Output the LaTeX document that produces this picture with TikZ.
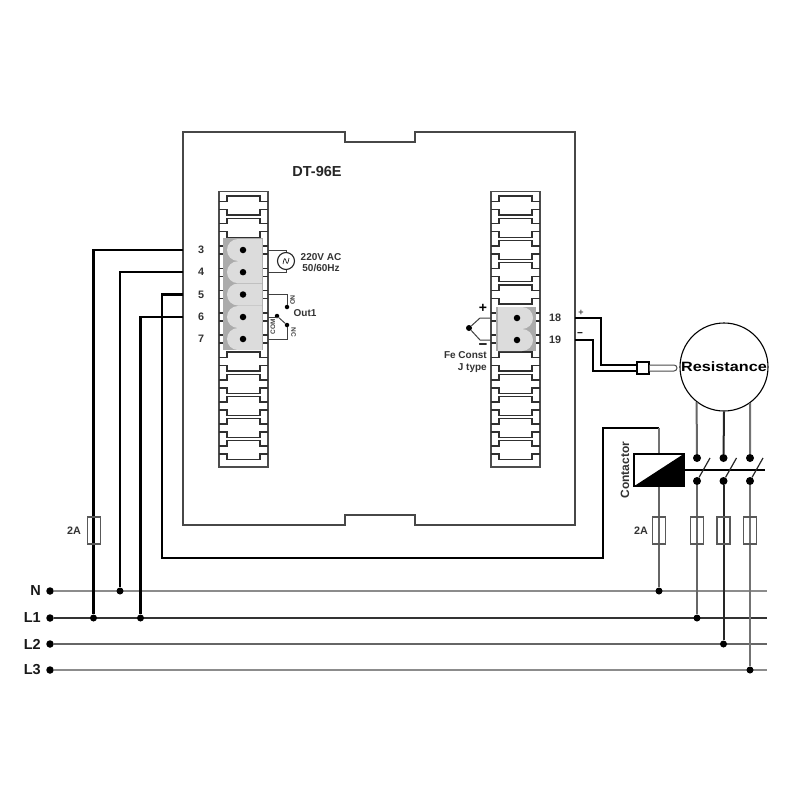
\documentclass[tikz,border=0pt]{standalone}
\usepackage{fontspec}
\setmainfont{Liberation Sans}
\usetikzlibrary{calc}
\definecolor{lobe}{HTML}{DCDCDC}
\definecolor{blockbg}{HTML}{ABABAB}
\definecolor{celline}{HTML}{303030}
\tikzset{
  lbl/.style={inner sep=0pt,font=\fontsize{10.8}{11}\selectfont\bfseries,text=black!80},
  tiny/.style={inner sep=0pt,font=\fontsize{6.5}{6.5}\selectfont\bfseries,text=black!75},
  small/.style={inner sep=0pt,font=\fontsize{10}{12}\selectfont\bfseries,text=black!80},
  bus/.style={inner sep=0pt,font=\fontsize{14.5}{14.5}\selectfont\bfseries,text=black!90},
  dot/.style={circle,fill=black,inner sep=0pt,minimum size=#1},
  dot/.default=7,
  heavy/.style={line width=2.5pt,black},
  thin wire/.style={line width=1.2pt,black!75},
  fuse/.style={draw=black!65,fill=none,line width=1.1pt,minimum width=13pt,minimum height=27pt,inner sep=0pt},
  cellpath/.style={line width=1.15pt,celline},
  pin/.style={circle,fill=black,inner sep=0pt,minimum size=6.5}
}
\newcommand{\strip}[1]{%
  \draw[line width=1.1pt,black!70] (#1,191.5) rectangle ++(49,275.5);
  \foreach \c in {205.5,227.8,250,272.2,294.5,317,339,361.5,384,406,428,450}{
    \draw[cellpath] (#1,\c-4)--++(8,0)--++(0,-5.5)--++(33,0)--++(0,5.5)--++(8,0);
    \draw[cellpath] (#1,\c+4)--++(8,0)--++(0,5.5)--++(33,0)--++(0,-5.5)--++(8,0);
  }
}
\begin{document}
\begin{tikzpicture}[x=1pt,y=-1pt]
\useasboundingbox (0,0) rectangle (800,800);
\fill[white] (0,0) rectangle (800,800);
% enclosure
\draw[line width=1.1pt,black!72] (183,132)--(345,132)--(345,142)--(415,142)--(415,132)--(575,132)--(575,525)--(415,525)--(415,515)--(345,515)--(345,525)--(183,525)--cycle;
\node[inner sep=0pt,font=\fontsize{14.5}{15}\selectfont\bfseries,text=black!85] (title) at (317,172) {DT-96E};
% strips
\strip{219}
\strip{491}
% left block
\fill[blockbg] (223,238) rectangle (263,350);
\foreach \c in {250,272.2,294.5,317,339}{
  \fill[lobe] (262,\c-11) -- (238,\c-11) arc[start angle=270,end angle=90,x radius=11,y radius=11] -- (262,\c+11) -- cycle;
}
\foreach \n/\c in {3/250,4/272.2,5/294.5,6/317,7/339}{
  \node[pin] (p\n) at (243,\c) {};
  \node[lbl] (t\n) at (201,\c) {\n};
  \coordinate (w\n) at (183,\c);
  \coordinate (r\n) at (268,\c);
}
% right block
\fill[blockbg] (496,307) rectangle (536,351);
\foreach \c in {318,340}{
  \fill[lobe] (498,\c-11) -- (522,\c-11) arc[start angle=-90,end angle=90,x radius=11,y radius=11] -- (498,\c+11) -- cycle;
}
\foreach \n/\c in {18/318,19/340}{
  \node[pin] (p\n) at (517,\c) {};
  \node[lbl] (t\n) at (555,\c) {\n};
  \coordinate (w\n) at (575,\c);
  \coordinate (l\n) at (491,\c);
}
% supply
\node[circle,draw=black!85,line width=1.1pt,minimum size=17pt,inner sep=0pt] (src) at (286,261) {};
\draw[black!85,line width=.7pt] (283,264) .. controls (284,258) and (285,257) .. (286,261) .. controls (287,265) and (288,264) .. (289,258);
\draw[thin wire,line width=1pt] (r3)-|(src.north);
\draw[thin wire,line width=1pt] (r4)-|(src.south);
\node[small] (ac) at (321,263.5) {\begin{tabular}{@{}c@{}}220V AC\\[-0.5pt]50/60Hz\end{tabular}};
% relay
\node[dot=4.5] (no) at (287,307) {};
\node[dot=4.5] (com) at (277,316) {};
\node[dot=4.5] (nc) at (287,325) {};
\draw[thin wire,line width=1pt] (r5)-|(no);
\draw[thin wire,line width=1pt] (r7)-|(nc);
\draw[thin wire,line width=1pt] (com)--(nc);
\draw[thin wire,line width=1pt] (r6)-|(com);
\node[tiny,rotate=-90] (notxt) at (292.5,300) {NO};
\node[tiny,rotate=-90] (nctxt) at (293.5,332) {NC};
\node[tiny,rotate=90] (comtxt) at (273,327) {COM};
\node[small] (out) at (305,313) {Out1};
% thermocouple
\node[dot=6] (tc) at (469,328) {};
\coordinate (tcu) at (480,318);
\coordinate (tcl) at (480,340);
\draw[thin wire,line width=1pt] (tc)--(tcu)--(l18);
\draw[thin wire,line width=1pt] (tc)--(tcl)--(l19);
\node[inner sep=0pt,font=\fontsize{14}{14}\selectfont\bfseries] (plus) at (483,308) {+};
\node[inner sep=0pt,font=\fontsize{15}{15}\selectfont\bfseries] (minus) at (483,346.5) {\textminus};
\node[small,align=right,anchor=north east] (fe) at (487,351) {Fe Const\\J type};
\node[inner sep=0pt,font=\fontsize{9}{9}\selectfont\bfseries,text=black!70] (p2) at (581,313) {+};
\node[inner sep=0pt,font=\fontsize{10}{10}\selectfont\bfseries] (m2) at (580,335) {\textminus};
% probe
\node[draw=black,fill=white,line width=1.2pt,minimum size=12pt,inner sep=0pt] (probe) at (643,368) {};
\draw[black!70,fill=white,line width=1pt,rounded corners=3pt] (probe.east |- 0,365) -- (677,365) -- (677,371) -- (probe.east |- 0,371);
\draw[heavy,line width=2.2pt] (w18)-|(601,365)--(probe.west |- 0,365);
\draw[heavy,line width=2.2pt] (w19)-|(593,371)--(probe.west |- 0,371);
% resistance
\node[circle,draw=black,fill=white,line width=1.1pt,minimum size=88pt,inner sep=0pt] (res) at (724,367) {};
\node[inner sep=0pt,font=\fontsize{13.5}{14}\selectfont\bfseries,xscale=1.2] (restxt) at (724,367) {Resistance};
% bus lines
\foreach \n/\y/\col/\lw in {N/591/black!45/2,L1/618/black!80/1.7,L2/644/black!60/1.8,L3/670/black!45/2}{
  \node[dot=7.5] (b\n) at (50,\y) {};
  \coordinate (e\n) at (767,\y);
  \draw[color=\col,line width=\lw pt] (b\n)--(e\n);
  \node[bus,anchor=east] (bl\n) at (41,\y) {\n};
}
% junctions
\node[dot] (j1) at (93.5,618) {};
\node[dot] (j2) at (120,591) {};
\node[dot] (j3) at (140.5,618) {};
\node[dot] (j4) at (659,591) {};
\node[dot] (j5) at (697,618) {};
\node[dot] (j6) at (723.5,644) {};
\node[dot] (j7) at (750,670) {};
% panel wires
\draw[heavy] (w3)-|(j1);
\draw[heavy] (w4)-|(j2);
\draw[heavy] (w6)-|(j3);
% contactor
\node[draw=black,fill=white,line width=1.3pt,minimum width=50pt,minimum height=32pt,inner sep=0pt] (coil) at (659,470) {};
\fill[black] (coil.south west)--(coil.north east)--(coil.south east)--cycle;
\draw[heavy] (w5)-|(162,558)-|(603,428)--(659,428);
\draw[line width=1.6pt,black!55] (659,428)--(coil.north);
\node[inner sep=0pt,font=\fontsize{12}{12}\selectfont\bfseries,text=black!80,rotate=90] (ctxt) at (625,470) {Contactor};
\draw[line width=1.7pt,black!60] (coil.south)--(j4);
\node[fuse] (f0) at (659,530.5) {};
\node[lbl] (f0t) at (641,531) {2A};
% fuse panel
\node[fuse] (f1) at (94,530.5) {};
\node[lbl] (f1t) at (74,531) {2A};
% contacts
\draw[line width=2.2pt,black] (coil.east)--(765,470);
\foreach \i/\x/\a/\j/\col in {a/697/232/j5/black!60,b/723.5/270/j6/black!85,c/750/306/j7/black!55}{
  \node[dot=8] (u\i) at (\x,458) {};
  \node[dot=8] (d\i) at (\x,481) {};
  \draw[line width=2pt,color=\col] (res.\a)--(u\i);
  \draw[line width=2pt,color=\col] (d\i)--(\j);
  \draw[line width=1.2pt,black!85] (d\i)--($(d\i)+(13,-23)$);
  \node[fuse] (fu\i) at (\x,530.5) {};
}
\end{tikzpicture}
\end{document}
